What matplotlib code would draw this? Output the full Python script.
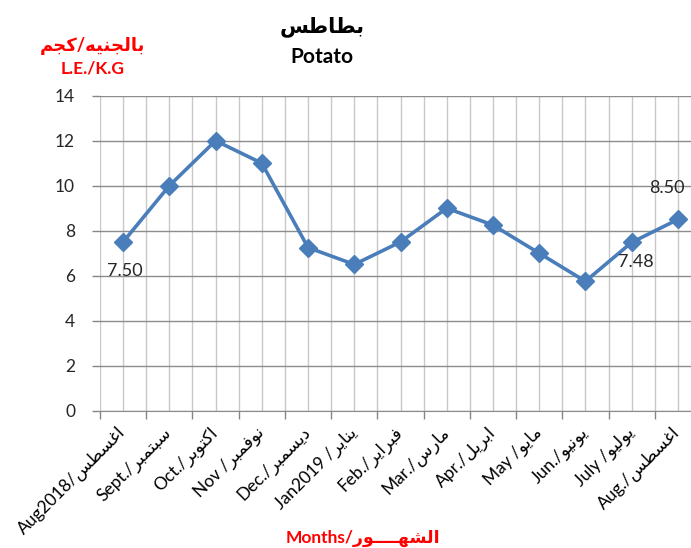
import numpy as np
import matplotlib
matplotlib.use('Agg')
import matplotlib.pyplot as plt

plt.rcParams['font.family'] = ['Lato', 'DejaVu Sans']

# ---- data ----
months_en = ['Aug2018/', 'Sept./', 'Oct./', 'Nov /', 'Dec./', 'Jan2019 /', 'Feb./',
             'Mar./', 'Apr./', 'May /', 'Jun./', 'July /', 'Aug./']
months_ar = ['اغسطس', 'سبتمبر', 'اكتوبر', 'نوفمبر', 'ديسمبر', 'يناير', 'فبراير',
             'مارس', 'ابريل', 'مايو', 'يونيو', 'يوليو', 'اغسطس']
prices = [7.50, 10.0, 12.0, 11.0, 7.25, 6.5, 7.5, 9.0, 8.25, 7.0, 5.75, 7.48, 8.50]
labelled = [0, 11, 12]   # points with a value label

# ---- tiny arabic shaper (matplotlib has no shaping / bidi) ----
FORMS = {
    'ا': (0xFE8D, 0xFE8E, None, None),
    'ب': (0xFE8F, 0xFE90, 0xFE91, 0xFE92),
    'ت': (0xFE95, 0xFE96, 0xFE97, 0xFE98),
    'ج': (0xFE9D, 0xFE9E, 0xFE9F, 0xFEA0),
    'د': (0xFEA9, 0xFEAA, None, None),
    'ر': (0xFEAD, 0xFEAE, None, None),
    'س': (0xFEB1, 0xFEB2, 0xFEB3, 0xFEB4),
    'ش': (0xFEB5, 0xFEB6, 0xFEB7, 0xFEB8),
    'ط': (0xFEC1, 0xFEC2, 0xFEC3, 0xFEC4),
    'غ': (0xFECD, 0xFECE, 0xFECF, 0xFED0),
    'ف': (0xFED1, 0xFED2, 0xFED3, 0xFED4),
    'ك': (0xFED9, 0xFEDA, 0xFEDB, 0xFEDC),
    'ل': (0xFEDD, 0xFEDE, 0xFEDF, 0xFEE0),
    'م': (0xFEE1, 0xFEE2, 0xFEE3, 0xFEE4),
    'ن': (0xFEE5, 0xFEE6, 0xFEE7, 0xFEE8),
    'ه': (0xFEE9, 0xFEEA, 0xFEEB, 0xFEEC),
    'و': (0xFEED, 0xFEEE, None, None),
    'ي': (0xFEF1, 0xFEF2, 0xFEF3, 0xFEF4),
}
TATWEEL = 'ـ'


def joins_next(c):
    return c == TATWEEL or (c in FORMS and FORMS[c][2] is not None)


def ar(word):
    """shape an arabic word and return it in visual (left to right) order"""
    out = []
    n = len(word)
    for i, c in enumerate(word):
        if c not in FORMS:
            out.append(c)
            continue
        iso, fin, ini, med = FORMS[c]
        prev_ok = i > 0 and joins_next(word[i - 1])
        next_ok = (i < n - 1 and ini is not None
                   and (word[i + 1] in FORMS or word[i + 1] == TATWEEL))
        if prev_ok and next_ok:
            ch = med
        elif prev_ok:
            ch = fin
        elif next_ok:
            ch = ini
        else:
            ch = iso
        out.append(chr(ch))
    return ''.join(reversed(out))


tick_labels = [en + ar(a) for en, a in zip(months_en, months_ar)]

blue = '#4A7EBB'
red = '#FF0000'

fig = plt.figure(figsize=(6.91, 5.48), dpi=100)
ax = fig.add_axes([100 / 691, 137.3 / 548, 601 / 691, 315 / 548])

x = np.arange(len(prices))
ax.plot(x, prices, color=blue, lw=2.6, marker='D', markersize=9.5,
        markerfacecolor=blue, markeredgecolor=blue, zorder=3)

ax.set_xlim(-0.5, len(prices) - 0.5)
ax.set_ylim(0, 14)
ax.set_yticks(np.arange(0, 15, 2))

ax.set_xticks(x)
ax.set_xticklabels(tick_labels, rotation=45, ha='right', va='center',
                   rotation_mode='anchor', fontsize=12.5, color='#000000')
ax.set_xticks(np.arange(-0.5, len(prices), 1), minor=True)
ax.tick_params(axis='x', which='major', length=0, pad=14)
ax.tick_params(axis='x', which='minor', length=6, width=1)
ax.tick_params(axis='y', length=6, width=1, pad=12, labelsize=12.5,
               labelcolor='#262626')
ax.tick_params(axis='both', which='both', color='#868686')

ax.grid(axis='x', which='both', color='#C8C8C8', lw=1)
ax.grid(axis='y', which='major', color='#8C8C8C', lw=1)
ax.set_axisbelow(True)
for side in ['top', 'right', 'left']:
    ax.spines[side].set_visible(False)
ax.spines['bottom'].set_color('#8C8C8C')

# value labels
offsets = {0: (1, -21), 11: (3, -14), 12: (-8, 23)}
for i in labelled:
    ax.annotate('%.2f' % prices[i], (x[i], prices[i]), xytext=offsets[i],
                textcoords='offset points', ha='center', va='center',
                fontsize=13, color='#262626')

# titles
fig.text(322 / 691, 1 - 27 / 548, ar('بطاطس'), ha='center', va='center',
         fontsize=15, fontweight='bold', color='black')
fig.text(322 / 691, 1 - 57 / 548, 'Potato', ha='center', va='center',
         fontsize=15, fontweight='bold', color='black')
fig.text(92 / 691, 1 - 46 / 548, ar('كجم') + '/' + ar('بالجنيه'), ha='center',
         va='center', fontsize=13, fontweight='bold', color=red)
fig.text(93 / 691, 1 - 68 / 548, 'L.E./K.G', ha='center', va='center',
         fontsize=12.5, fontweight='bold', color=red)
fig.text(363 / 691, 1 - 538 / 548, 'Months/' + ar('الشهــــور'), ha='center',
         va='center', fontsize=12.5, fontweight='bold', color=red)

fig.savefig('out.png', dpi=100)
